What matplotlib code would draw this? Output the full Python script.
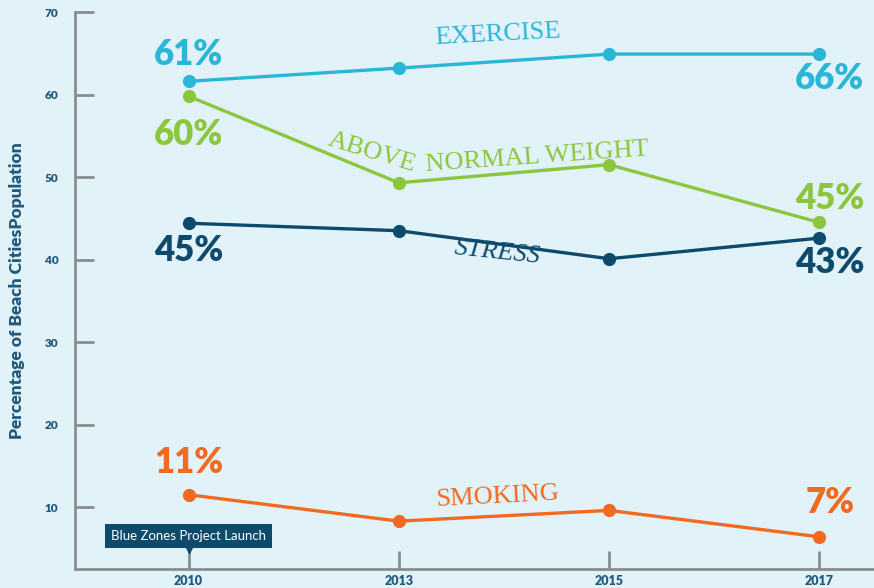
import matplotlib
matplotlib.use("Agg")
import matplotlib.pyplot as plt

years = ["2010", "2013", "2015", "2017"]
exercise = [61.6, 63.2, 64.9, 64.9]
weight = [59.8, 49.3, 51.5, 44.5]
stress = [44.4, 43.5, 40.1, 42.6]
smoking = [11.5, 8.3, 9.6, 6.4]

start_labels = ["61%", "60%", "45%", "11%"]
end_labels = ["66%", "45%", "43%", "7%"]
series_names = ["EXERCISE", "ABOVE NORMAL WEIGHT", "STRESS", "SMOKING"]
y_ticks = [10, 20, 30, 40, 50, 60, 70]

BG = "#e1f2f9"
C_EX = "#2bb6d7"
C_WT = "#8cc63f"
C_ST = "#0e4a6c"
C_SM = "#f26a21"
AXIS = "#8a8d8f"
TICKTXT = "#22587a"

fig = plt.figure(figsize=(8.74, 5.88), dpi=100, facecolor=BG)
ax = fig.add_axes([75 / 874, 19 / 588, 1 - 75 / 874, (569 - 12) / 588])
ax.set_facecolor(BG)

x = list(range(len(years)))
for vals, col in [(exercise, C_EX), (weight, C_WT), (stress, C_ST), (smoking, C_SM)]:
    ax.plot(x, vals, color=col, lw=2.4, marker="o", ms=8.5, clip_on=False, zorder=3)

ax.set_xlim(-0.54, 3.26)
ax.set_ylim(2.5, 70)
ax.set_xticks(x)
ax.set_xticklabels(years)
ax.set_yticks(y_ticks)

for s in ["top", "right"]:
    ax.spines[s].set_visible(False)
for s in ["left", "bottom"]:
    ax.spines[s].set_color(AXIS)
    ax.spines[s].set_linewidth(2)

ax.tick_params(axis="y", direction="in", length=14, width=2, color=AXIS,
               labelcolor=TICKTXT, labelsize=8.5, pad=12)
ax.tick_params(axis="x", direction="in", length=13, width=2, color=AXIS,
               labelcolor=TICKTXT, labelsize=9, pad=4)
for lab in ax.get_yticklabels() + ax.get_xticklabels():
    lab.set_fontweight("heavy")
    lab.set_fontfamily("Lato")

ax.set_ylabel("Percentage of Beach CitiesPopulation", fontsize=12.5, fontweight="heavy",
              color=TICKTXT, family="Lato", labelpad=14)

pct_font = dict(fontsize=25, fontweight="heavy", family="Lato", ha="center", va="center",
                clip_on=False)
# start labels (offsets in value units from each line's first point)
ax.text(0, 61.6 + 3.2, start_labels[0], color=C_EX, **pct_font)
ax.text(0, 59.8 - 4.6, start_labels[1], color=C_WT, **pct_font)
ax.text(0, 44.4 - 3.3, start_labels[2], color=C_ST, **pct_font)
ax.text(0, 11.5 + 3.9, start_labels[3], color=C_SM, **pct_font)
# end labels
ax.text(3.05, 64.9 - 3.0, end_labels[0], color=C_EX, **pct_font)
ax.text(3.05, 44.5 + 2.9, end_labels[1], color=C_WT, **pct_font)
ax.text(3.05, 42.6 - 2.9, end_labels[2], color=C_ST, **pct_font)
ax.text(3.05, 6.4 + 4.1, end_labels[3], color=C_SM, **pct_font)

name_font = dict(family="Liberation Serif", fontsize=19, ha="center", va="center")
ax.text(1.47, 67.2, series_names[0], color=C_EX, rotation=3, **name_font)
ab, rest = series_names[1].split(" ", 1)
ax.text(0.87, 53.0, ab, color=C_WT, rotation=-17, **name_font)
ax.text(1.66, 52.4, rest, color=C_WT, rotation=4, **name_font)
ax.text(1.47, 40.8, series_names[2], color=C_ST, rotation=-6, style="italic", **name_font)
ax.text(1.47, 11.2, series_names[3], color=C_SM, rotation=3, **name_font)

ax.text(0, 6.55, "Blue Zones Project Launch", color="white", fontsize=9.5, family="Lato",
        ha="center", va="center", zorder=5,
        bbox=dict(boxstyle="square,pad=0.45", fc=C_ST, ec="none"))
ax.plot([0], [4.9], marker="v", ms=6, color=C_ST, zorder=5, clip_on=False)

fig.savefig("out.png", dpi=100, facecolor=BG)
